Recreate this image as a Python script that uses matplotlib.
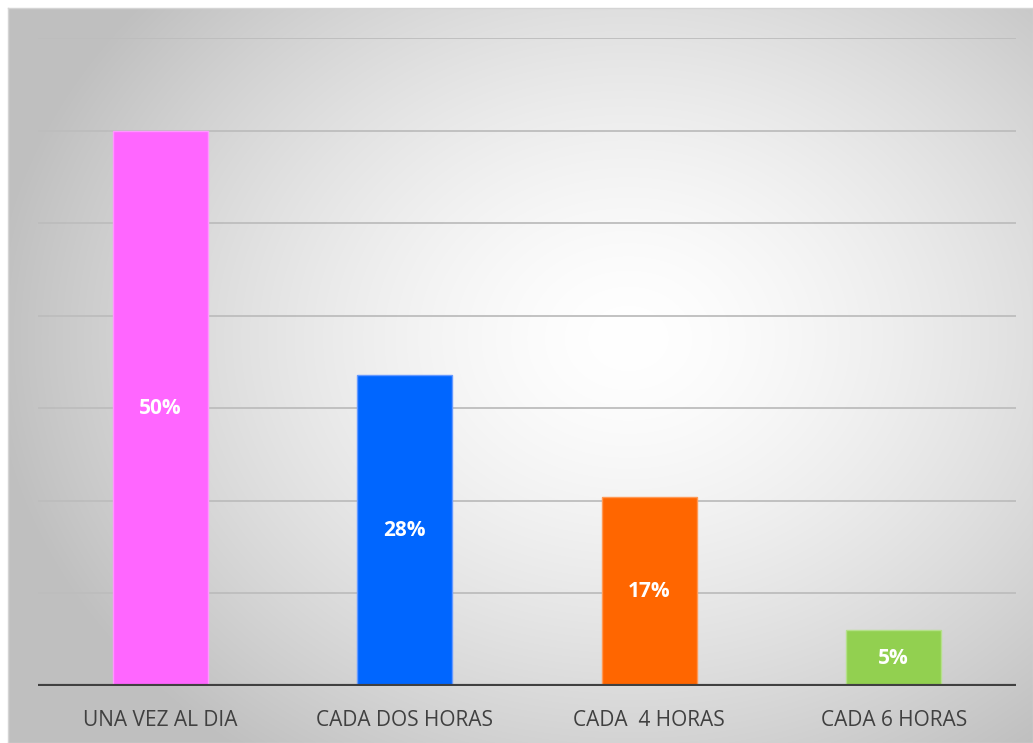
import matplotlib.pyplot as plt
import numpy as np

categories = ["UNA VEZ AL DIA", "CADA DOS HORAS", "CADA  4 HORAS", "CADA 6 HORAS"]
values = [50, 28, 17, 5]
labels = ["50%", "28%", "17%", "5%"]
colors = ["#FF66FF", "#0066FF", "#FF6600", "#92D050"]
edges = ["#FF99FF", "#6699FF", "#FF9955", "#B5E08A"]

plt.rcParams["font.family"] = ["Open Sans", "DejaVu Sans"]

fig = plt.figure(figsize=(10.33, 7.43), dpi=100)
fig.patch.set_facecolor("white")

# radial gradient panel behind the chart
bg = fig.add_axes([8 / 1033, 0, 1 - 8 / 1033, 1 - 8 / 743])
h, w = 735, 1025
yy, xx = np.mgrid[0:h, 0:w]
cx, cy = 620, 330
r = np.sqrt(((xx - cx) / 640.0) ** 2 + ((yy - cy) / 520.0) ** 2)
shade = 1.0 - 0.25 * np.clip(r, 0, 1) ** 1.5
bg.imshow(np.dstack([shade] * 3), aspect="auto", extent=[0, 1, 0, 1])
bg.set_xticks([])
bg.set_yticks([])
for s in bg.spines.values():
    s.set_color("#d4d4d4")
    s.set_linewidth(1)

ax = fig.add_axes([38 / 1033, 1 - 686 / 743, (1016 - 38) / 1033, (686 - 38) / 743])
ax.set_facecolor("none")

step = 50 / 6
ax.set_ylim(0, 7 * step)
ax.set_xlim(-0.5, len(categories) - 0.5)
for k in range(1, 8):
    ax.axhline(k * step, color="#bdbdbd", linewidth=1.3, zorder=1)

x = np.arange(len(categories))
ax.bar(x, values, width=0.39, color=colors, edgecolor=edges, linewidth=1, zorder=2)
for xi, v, lab in zip(x, values, labels):
    ax.text(xi, v / 2, lab, ha="center", va="center", color="white",
            fontsize=15, fontweight="bold", zorder=3)

ax.axhline(0, color="#404040", linewidth=3, zorder=4)
for s in ax.spines.values():
    s.set_visible(False)
ax.set_yticks([])
ax.set_xticks(x)
ax.set_xticklabels(categories, fontsize=15, color="#404040")
ax.tick_params(axis="x", length=0, pad=17)

fig.savefig("out.png", dpi=100)
